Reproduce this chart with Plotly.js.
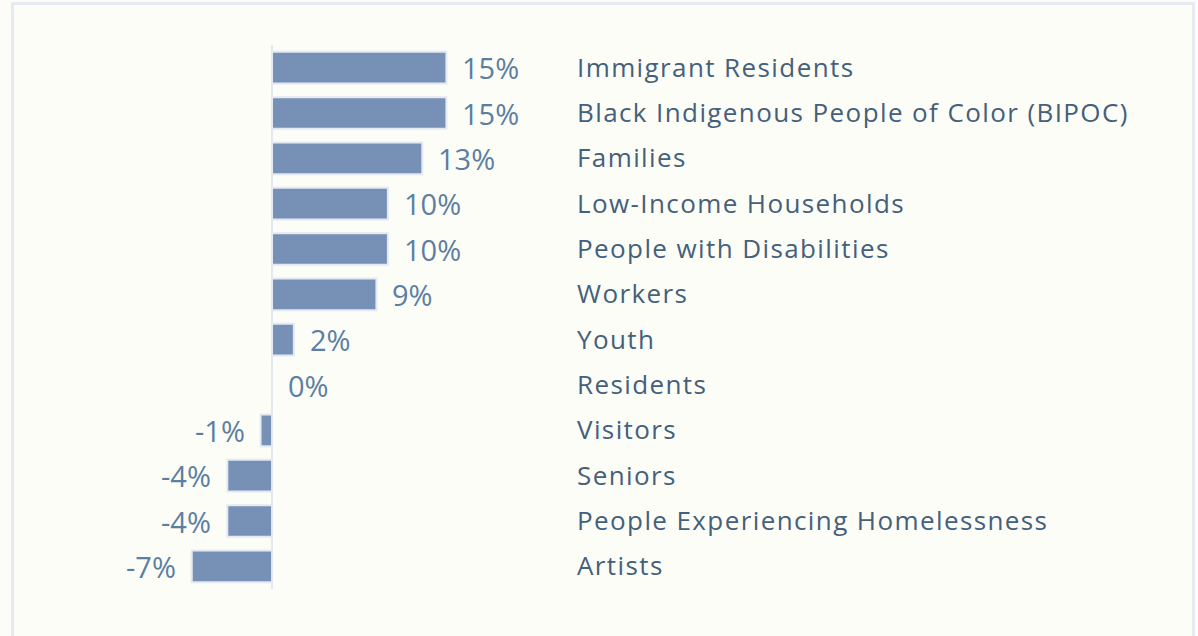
<!DOCTYPE html>
<html>
<head>
<meta charset="utf-8">
<script src="https://cdn.plot.ly/plotly-3.0.1.min.js"></script>
<style>
  html, body { margin: 0; padding: 0; background: #fdfdf8; }
  #wrap { position: relative; width: 1198px; height: 636px; overflow: hidden; }
  #chart { position: absolute; left: 0; top: 0; width: 1198px; height: 636px; }
  #frame { position: absolute; left: 11px; top: 2px; width: 1178px; height: 700px;
           border: 3px solid #e6eaf2; pointer-events: none; }
  #chart g.ytick text { letter-spacing: 1.4px; }
</style>
</head>
<body>
<div id="wrap">
  <div id="chart"></div>
  <div id="frame"></div>
</div>
<script>
const categories = [
  "Immigrant Residents",
  "Black Indigenous People of Color (BIPOC)",
  "Families",
  "Low-Income Households",
  "People with Disabilities",
  "Workers",
  "Youth",
  "Residents",
  "Visitors",
  "Seniors",
  "People Experiencing Homelessness",
  "Artists"
];
const values = [15.2, 15.2, 13.1, 10.1, 10.1, 9.1, 1.9, 0, -1.0, -3.9, -3.9, -7.0];
const valueLabels = ["15%", "15%", "13%", "10%", "10%", "9%", "2%", "0%", "-1%", "-4%", "-4%", "-7%"];

const FONT = "Open Sans, Noto Sans, sans-serif";

const annotations = values.map((v, i) => ({
  x: v,
  y: categories[i],
  xref: "x",
  yref: "y",
  text: valueLabels[i],
  showarrow: false,
  xanchor: v < 0 ? "right" : "left",
  xshift: v < 0 ? -14 : 14,
  font: { family: FONT, size: 29, color: "#5b7fa2" }
}));

const trace = {
  type: "bar",
  orientation: "h",
  x: values,
  y: categories,
  marker: { color: "#7790b5", line: { color: "#e4e9f1", width: 2 } },
  hoverinfo: "skip"
};

const layout = {
  width: 1198,
  height: 636,
  paper_bgcolor: "#fdfdf8",
  plot_bgcolor: "#fdfdf8",
  margin: { l: 100, r: 1198 - 576, t: 45, b: 47 },
  showlegend: false,
  bargap: 0.3,
  xaxis: {
    range: [-15, 26.5],
    showgrid: false,
    showticklabels: false,
    zeroline: true,
    zerolinecolor: "#e3e8f0",
    zerolinewidth: 2,
    fixedrange: true
  },
  yaxis: {
    type: "category",
    categoryorder: "array",
    categoryarray: categories,
    autorange: "reversed",
    side: "right",
    showgrid: false,
    zeroline: false,
    ticks: "",
    automargin: false,
    tickfont: { family: FONT, size: 26, color: "#44607a" },
    fixedrange: true
  },
  annotations: annotations
};

Plotly.newPlot("chart", [trace], layout, { displayModeBar: false, staticPlot: true });
</script>
</body>
</html>
